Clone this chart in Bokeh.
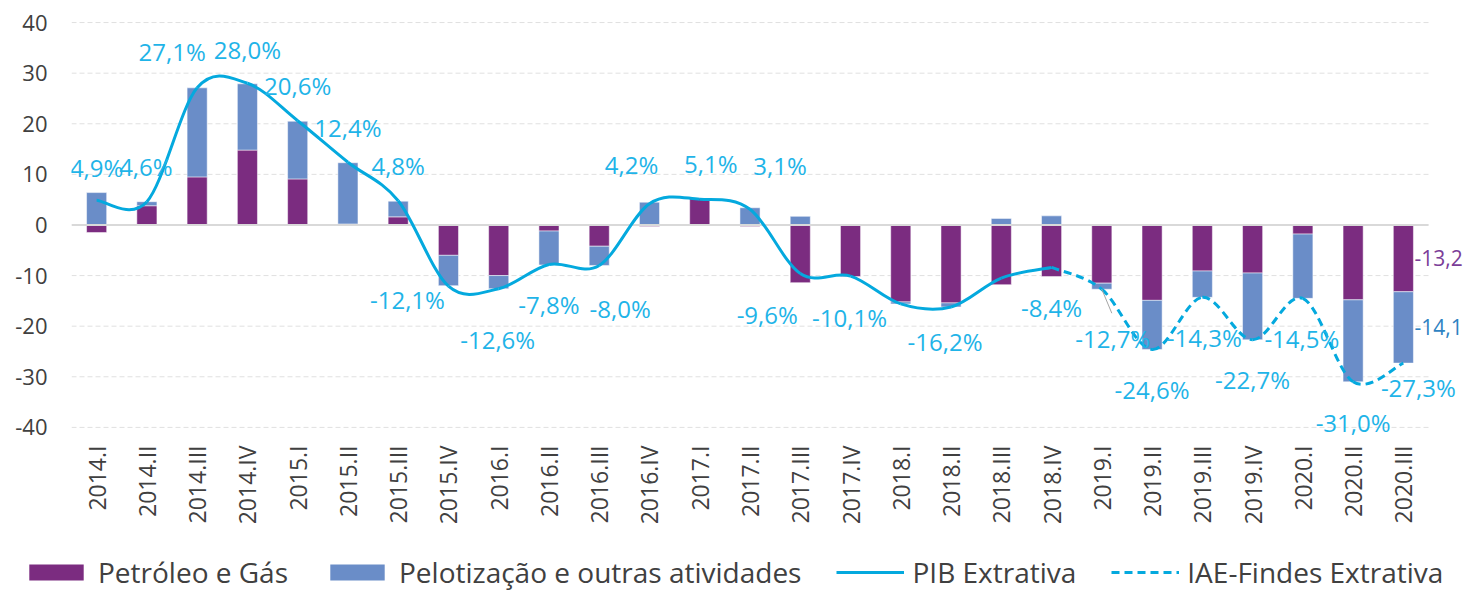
import math
import numpy as np
from bokeh.plotting import figure
from bokeh.layouts import column
from bokeh.models import (ColumnDataSource, FixedTicker, Legend, LegendItem,
                          LabelSet)
from bokeh.core.properties import value
from bokeh.embed import file_html
from bokeh.resources import INLINE

# ---------------- data ----------------
quarters = ["2014.I", "2014.II", "2014.III", "2014.IV",
            "2015.I", "2015.II", "2015.III", "2015.IV",
            "2016.I", "2016.II", "2016.III", "2016.IV",
            "2017.I", "2017.II", "2017.III", "2017.IV",
            "2018.I", "2018.II", "2018.III", "2018.IV",
            "2019.I", "2019.II", "2019.III", "2019.IV",
            "2020.I", "2020.II", "2020.III"]

petroleo_gas = [-1.5, 3.8, 9.5, 14.8, 9.1, 0.2, 1.6, -6.0, -10.0, -1.2, -4.2, -0.3,
                5.3, -0.3, -11.4, -10.2, -15.2, -15.4, -11.8, -10.2,
                -11.5, -14.9, -9.1, -9.5, -1.8, -14.8, -13.2]

pelotizacao = [6.4, 0.8, 17.6, 13.1, 11.4, 12.1, 3.1, -6.0, -2.6, -6.7, -3.8, 4.5,
               -0.2, 3.4, 1.7, 0.1, -0.4, -0.8, 1.3, 1.8,
               -1.2, -9.7, -5.2, -13.2, -12.7, -16.2, -14.1]

# PIB Extrativa: 2014.I .. 2018.IV
pib_extrativa = [4.9, 4.6, 27.1, 28.0, 20.6, 12.4, 4.8, -12.1, -12.6, -7.8, -8.0, 4.2,
                 5.1, 3.1, -9.6, -10.1, -15.6, -16.2, -10.5, -8.4]
pib_start = 0

# IAE-Findes Extrativa: 2018.IV .. 2020.III
iae_findes = [-8.4, -12.7, -24.6, -14.3, -22.7, -14.5, -31.0, -27.3]
iae_start = 19

# which points carry a data label
pib_labeled = [True] * 16 + [False, True, False, True]
iae_labeled = [False] + [True] * 7

y_ticks = [-40, -30, -20, -10, 0, 10, 20, 30, 40]
y_tick_labels = ["-40", "-30", "-20", "-10", "0", "10", "20", "30", "40"]

# ---------------- style ----------------
PURPLE = "#7B2C80"
BLUE = "#6A8DC8"
LINE = "#04A9DE"
LABEL = "#1FB4E8"
TXT = "#404040"
FONT = "Open Sans"

W = 1468
H_MAIN, H_LEG = 552, 40
BL, BT = 71, 17
CAT_PX = 1357 / 27.0          # px per category
Y_PX = 405 / 80.0             # px per unit
X0 = -0.5
Y0, Y1 = -42, 41
FW = W - BL
FH = int(round((Y1 - Y0) * Y_PX))
BB = H_MAIN - BT - FH
X1 = X0 + FW / CAT_PX
N = len(quarters)

# label offsets in screen px (dx right, dy down)
pib_dx = [0, -1, -25, 0, 0, 0, 0, -41, -1, 0, 21, -18, 11, 30, -33, -1, 0, -6, 0, 0]
pib_dy = [-33, -35, -36, -34, -35, -35, -35, 13, 51, 40, 43, -39, -36, -44, 41, 41, 0, 35, 0, 40]
iae_dx = [0, 11, 0, 2, 0, -1, 0, 15]
iae_dy = [0, 49, 40, 40, 40, 40, 41, 24]
LEADER = (10, 24)  # px, leader line for 2019.I label

p = figure(width=W, height=H_MAIN, x_range=(X0, X1), y_range=(Y0, Y1),
           output_backend="svg", toolbar_location=None,
           min_border_left=BL, min_border_right=0,
           min_border_top=BT, min_border_bottom=BB)
p.frame_align = False
p.outline_line_color = None
p.background_fill_color = "white"
p.border_fill_color = "white"
p.xgrid.visible = False
p.ygrid.visible = False

# horizontal gridlines spanning the category area only
p.segment(x0=[X0] * len(y_ticks), x1=[N - 0.5] * len(y_ticks), y0=y_ticks, y1=y_ticks,
          line_color="#E0E0E0", line_width=1, line_dash="5 3")

# axes
p.yaxis.ticker = FixedTicker(ticks=y_ticks)
p.yaxis.major_label_overrides = {t: l for t, l in zip(y_ticks, y_tick_labels)}
p.yaxis.axis_line_color = None
p.yaxis.major_tick_line_color = None
p.yaxis.minor_tick_line_color = None
p.yaxis.major_tick_in = 0
p.yaxis.major_tick_out = 0
p.yaxis.major_label_standoff = 24
p.yaxis.major_label_text_font = FONT
p.yaxis.major_label_text_font_size = "22px"
p.yaxis.major_label_text_color = TXT

xs_all = list(range(N))
p.xaxis.ticker = FixedTicker(ticks=xs_all)
p.xaxis.major_label_overrides = {i: q for i, q in zip(xs_all, quarters)}
p.xaxis.major_label_orientation = math.pi / 2
p.xaxis.axis_line_color = None
p.xaxis.major_tick_line_color = None
p.xaxis.minor_tick_line_color = None
p.xaxis.major_tick_in = 0
p.xaxis.major_tick_out = 0
p.xaxis.major_label_standoff = 8
p.xaxis.major_label_text_font = FONT
p.xaxis.major_label_text_font_size = "23px"
p.xaxis.major_label_text_color = TXT

# stacked bars (positives stack up, negatives stack down)
pa = np.array(petroleo_gas, dtype=float)
qa = np.array(pelotizacao, dtype=float)
xa = np.arange(N, dtype=float)
pur_bot = np.minimum(pa, 0)
pur_top = np.maximum(pa, 0)
base = np.where(qa >= 0, np.maximum(pa, 0), np.minimum(pa, 0))
blu_bot = np.minimum(base, base + qa)
blu_top = np.maximum(base, base + qa)

BAR_W = 0.4
BAR_STYLE = dict(line_color="white", line_alpha=0.5, line_width=1)
p.vbar(x=xa, bottom=pur_bot, top=pur_top, width=BAR_W, fill_color=PURPLE, **BAR_STYLE)
p.vbar(x=xa, bottom=blu_bot, top=blu_top, width=BAR_W, fill_color=BLUE, **BAR_STYLE)

# zero line
p.segment(x0=[X0], x1=[N - 0.5], y0=[0], y1=[0], line_color="#D9D9D9", line_width=2)


def smooth_segments(xs, ys):
    xs = np.asarray(xs, dtype=float)
    ys = np.asarray(ys, dtype=float)
    xp = np.concatenate([[xs[0]], xs, [xs[-1]]])
    yp = np.concatenate([[ys[0]], ys, [ys[-1]]])
    n = len(xs)
    k = np.arange(n - 1)
    P0x, P1x, P2x, P3x = xp[k], xp[k + 1], xp[k + 2], xp[k + 3]
    P0y, P1y, P2y, P3y = yp[k], yp[k + 1], yp[k + 2], yp[k + 3]
    return dict(x0=P1x, y0=P1y, x1=P2x, y1=P2y,
                cx0=P1x + (P2x - P0x) / 6, cy0=P1y + (P2y - P0y) / 6,
                cx1=P2x - (P3x - P1x) / 6, cy1=P2y - (P3y - P1y) / 6)


pib_x = np.arange(pib_start, pib_start + len(pib_extrativa))
iae_x = np.arange(iae_start, iae_start + len(iae_findes))

PIB_STYLE = dict(line_color=LINE, line_width=3)
IAE_STYLE = dict(line_color=LINE, line_width=3, line_dash="8 5")
BEZ = dict(x0="x0", y0="y0", x1="x1", y1="y1", cx0="cx0", cy0="cy0", cx1="cx1", cy1="cy1")
p.bezier(source=ColumnDataSource(smooth_segments(pib_x, pib_extrativa)), **BEZ, **PIB_STYLE)
p.bezier(source=ColumnDataSource(smooth_segments(iae_x, iae_findes)), **BEZ, **IAE_STYLE)


def fmt(v, pct=True):
    s = f"{v:.1f}".replace(".", ",")
    return s + "%" if pct else s


lx, ly, lt, ldx, ldy = [], [], [], [], []
for i, v in enumerate(pib_extrativa):
    if pib_labeled[i]:
        lx.append(pib_x[i]); ly.append(v); lt.append(fmt(v))
        ldx.append(pib_dx[i]); ldy.append(-pib_dy[i])
for i, v in enumerate(iae_findes):
    if iae_labeled[i]:
        lx.append(iae_x[i]); ly.append(v); lt.append(fmt(v))
        ldx.append(iae_dx[i]); ldy.append(-iae_dy[i])

lab_src = ColumnDataSource(dict(x=lx, y=ly, text=lt, dx=ldx, dy=ldy))
p.add_layout(LabelSet(x="x", y="y", text="text", x_offset="dx", y_offset="dy",
                      source=lab_src, text_align="center", text_baseline="middle",
                      text_font=value(FONT), text_font_size="24px", text_color=LABEL))

# leader line for the 2019.I label
li = 1
p.segment(x0=[iae_x[li]], y0=[iae_findes[li]],
          x1=[iae_x[li] + LEADER[0] / CAT_PX], y1=[iae_findes[li] - LEADER[1] / Y_PX],
          line_color="#A6A6A6", line_width=1)

# bar segment labels on the last bar
last = N - 1
bar_lab = ColumnDataSource(dict(
    x=[xa[last], xa[last]],
    y=[(pur_bot[last] + pur_top[last]) / 2, (blu_bot[last] + blu_top[last]) / 2],
    text=[fmt(petroleo_gas[last], False), fmt(pelotizacao[last], False)],
    color=["#7B3D98", "#2E83C2"]))
p.add_layout(LabelSet(x="x", y="y", text="text", source=bar_lab,
                      x_offset=BAR_W / 2 * CAT_PX + 1, text_align="left",
                      text_baseline="middle", text_font=value(FONT),
                      text_font_size="21px", text_color="color"))

# ---------------- legend strip ----------------
pl = figure(width=W, height=H_LEG, x_range=(0, 1), y_range=(0, 1),
            output_backend="svg", toolbar_location=None,
            x_axis_location=None, y_axis_location=None,
            min_border_left=0, min_border_right=0, min_border_top=0, min_border_bottom=0)
pl.frame_align = False
pl.outline_line_color = None
pl.xgrid.visible = False
pl.ygrid.visible = False
# proxy renderers of zero extent: they only lend their style to the legend
l_pur = pl.vbar(x=[0.5], top=[0], bottom=[0], width=0, fill_color=PURPLE, line_color=None)
l_blu = pl.vbar(x=[0.5], top=[0], bottom=[0], width=0, fill_color=BLUE, line_color=None)
l_pib = pl.line(x=[0.5], y=[0.5], **PIB_STYLE)
l_iae = pl.line(x=[0.5], y=[0.5], **IAE_STYLE)

legend = Legend(items=[LegendItem(label="Petróleo e Gás", renderers=[l_pur]),
                       LegendItem(label="Pelotização e outras atividades", renderers=[l_blu]),
                       LegendItem(label="PIB Extrativa", renderers=[l_pib]),
                       LegendItem(label="IAE-Findes Extrativa", renderers=[l_iae])],
                orientation="horizontal", location="left",
                glyph_width=68, glyph_height=20, label_standoff=8, spacing=35,
                padding=0, margin=22, border_line_color=None,
                background_fill_alpha=0, label_text_font=FONT,
                label_text_font_size="28px", label_text_color=TXT,
                label_text_baseline="middle")
pl.add_layout(legend)

layout = column(p, pl, spacing=0)
open("out.html", "w").write(file_html(layout, INLINE))
